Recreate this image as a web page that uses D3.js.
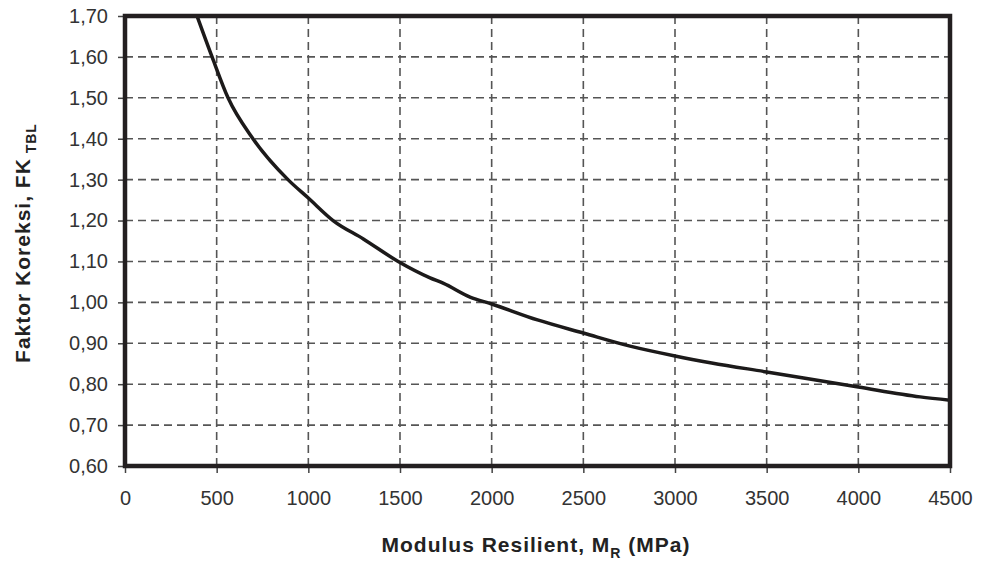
<!DOCTYPE html>
<html>
<head>
<meta charset="utf-8">
<script src="https://cdn.jsdelivr.net/npm/d3@7"></script>
<style>
  body { margin: 0; background: #fff; }
  svg text { font-family: "Liberation Sans", Arial, sans-serif; }
</style>
</head>
<body>
<svg id="chart" width="981" height="564"></svg>
<script>
// Curve values (MR in MPa, correction factor)
var modulus = [393, 475, 562, 698, 889, 1000, 1135, 1300, 1490, 1664, 1735, 1882, 2000, 2250, 2500, 2755, 3000, 3200, 3500, 4000, 4337, 4500];
var faktor  = [1.70, 1.60, 1.50, 1.40, 1.30, 1.255, 1.20, 1.155, 1.10, 1.06, 1.047, 1.013, 0.996, 0.957, 0.925, 0.893, 0.869, 0.852, 0.830, 0.793, 0.769, 0.761];

var xTicks = [0, 500, 1000, 1500, 2000, 2500, 3000, 3500, 4000, 4500];
var yTicks = [0.6, 0.7, 0.8, 0.9, 1.0, 1.1, 1.2, 1.3, 1.4, 1.5, 1.6, 1.7];

var svg = d3.select('#chart');
var margin = {left: 125, top: 16, right: 31, bottom: 98};
var width = 981 - margin.left - margin.right;
var height = 564 - margin.top - margin.bottom;

var x = d3.scaleLinear().domain([0, 4500]).range([0, width]);
var y = d3.scaleLinear().domain([0.6, 1.7]).range([height, 0]);

var g = svg.append('g')
    .attr('transform', 'translate(' + margin.left + ',' + margin.top + ')');

// dashed grid
g.append('g').selectAll('line')
    .data(xTicks.slice(1, -1))
    .enter().append('line')
    .attr('x1', function(d) { return x(d); })
    .attr('x2', function(d) { return x(d); })
    .attr('y1', 0).attr('y2', height)
    .attr('stroke', '#555').attr('stroke-width', 1.6)
    .attr('stroke-dasharray', '8,5');

g.append('g').selectAll('line')
    .data(yTicks.slice(1, -1))
    .enter().append('line')
    .attr('y1', function(d) { return y(d); })
    .attr('y2', function(d) { return y(d); })
    .attr('x1', 0).attr('x2', width)
    .attr('stroke', '#555').attr('stroke-width', 1.6)
    .attr('stroke-dasharray', '8,5');

// axes
var xAxis = g.append('g')
    .attr('transform', 'translate(0,' + height + ')')
    .call(d3.axisBottom(x).tickValues(xTicks).tickSize(7).tickPadding(18)
        .tickFormat(d3.format('d')));

var yAxis = g.append('g')
    .call(d3.axisLeft(y).tickValues(yTicks).tickSize(7).tickPadding(10)
        .tickFormat(function(d) { return d.toFixed(2).replace('.', ','); }));

[xAxis, yAxis].forEach(function(a) {
    a.select('.domain').remove();
    a.selectAll('line').attr('stroke', '#444').attr('stroke-width', 1.5);
    a.selectAll('text').attr('fill', '#333').style('font-size', '20px');
});

// curve
g.append('clipPath').attr('id', 'clip')
    .append('rect').attr('width', width).attr('height', height);

var pts = modulus.map(function(m, i) { return [m, faktor[i]]; });
var line = d3.line()
    .x(function(d) { return x(d[0]); })
    .y(function(d) { return y(d[1]); })
    .curve(d3.curveMonotoneX);

g.append('path')
    .datum(pts)
    .attr('clip-path', 'url(#clip)')
    .attr('d', line)
    .attr('fill', 'none')
    .attr('stroke', '#1c1a1a')
    .attr('stroke-width', 3.5);

// frame
g.append('rect')
    .attr('width', width).attr('height', height)
    .attr('fill', 'none')
    .attr('stroke', '#231f20')
    .attr('stroke-width', 4.5);

// axis titles
var xt = svg.append('text')
    .attr('x', 536)
    .attr('y', 552)
    .attr('text-anchor', 'middle')
    .attr('fill', '#222')
    .style('font-size', '21px')
    .style('letter-spacing', '1px')
    .style('font-weight', 'bold');
xt.append('tspan').text('Modulus Resilient, M');
xt.append('tspan').attr('dy', 6).style('font-size', '14px').text('R');
xt.append('tspan').attr('dy', -6).text(' (MPa)');

var yt = svg.append('text')
    .attr('transform', 'translate(30,243) rotate(-90)')
    .attr('text-anchor', 'middle')
    .attr('fill', '#222')
    .style('font-size', '21px')
    .style('letter-spacing', '1px')
    .style('font-weight', 'bold');
yt.append('tspan').text('Faktor Koreksi, FK');
yt.append('tspan').attr('dy', 6).style('font-size', '14px').text(' TBL');
</script>
</body>
</html>
